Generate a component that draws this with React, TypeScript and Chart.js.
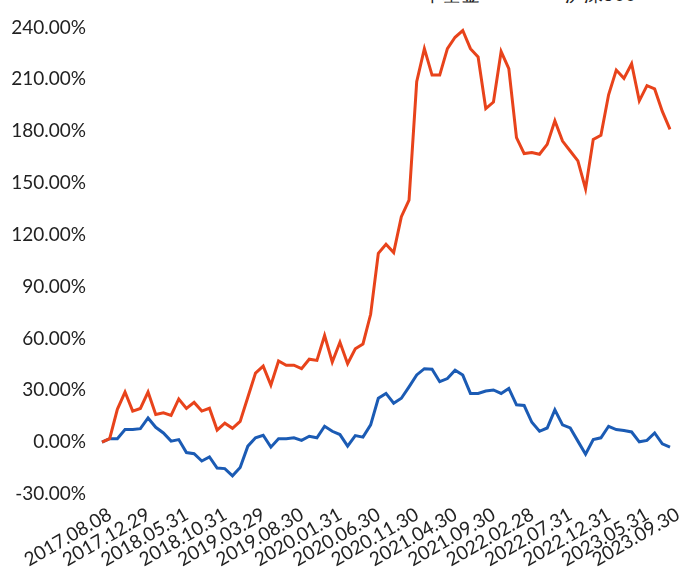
import React, { useEffect, useRef } from "react";
import { Chart, registerables } from "chart.js";

Chart.register(...registerables);

const categories: string[] = [
  "2017.08.08", "2017.08.31", "2017.09.29", "2017.10.31", "2017.11.30", "2017.12.29",
  "2018.01.31", "2018.02.28", "2018.03.30", "2018.04.27", "2018.05.31",
  "2018.06.29", "2018.07.31", "2018.08.31", "2018.09.28", "2018.10.31",
  "2018.11.30", "2018.12.28", "2019.01.31", "2019.02.28", "2019.03.29",
  "2019.04.30", "2019.05.31", "2019.06.28", "2019.07.31", "2019.08.30",
  "2019.09.30", "2019.10.31", "2019.11.29", "2019.12.31", "2020.01.31",
  "2020.02.28", "2020.03.31", "2020.04.30", "2020.05.29", "2020.06.30",
  "2020.07.31", "2020.08.31", "2020.09.30", "2020.10.30", "2020.11.30",
  "2020.12.31", "2021.01.29", "2021.02.26", "2021.03.31", "2021.04.30",
  "2021.05.31", "2021.06.30", "2021.07.30", "2021.08.31", "2021.09.30",
  "2021.10.29", "2021.11.30", "2021.12.31", "2022.01.28", "2022.02.28",
  "2022.03.31", "2022.04.29", "2022.05.31", "2022.06.30", "2022.07.31",
  "2022.08.31", "2022.09.30", "2022.10.31", "2022.11.30", "2022.12.31",
  "2023.01.31", "2023.02.28", "2023.03.31", "2023.04.28", "2023.05.31",
  "2023.06.30", "2023.07.31", "2023.08.31", "2023.09.30",
];

// 本基金 cumulative return (%)
const fundValues: number[] = [
  0, 2, 19, 29, 18, 19.5, 29, 16, 17, 15.5,
  25, 19.5, 23, 18, 19.6, 7, 11, 8, 12, 26,
  40, 44, 33, 47, 44.5, 44.5, 42.5, 48, 47.3, 61.7,
  46.4, 57.8, 45.4, 54, 56.8, 74, 109.3, 114.5, 109.7, 130.5,
  140, 208.6, 227.7, 212.4, 212.4, 227.7, 234.3, 238.2, 227.7, 222.9,
  193, 196.8, 226, 216.2, 176.2, 167, 167.6, 166.6, 172.3, 186,
  174.2, 168.5, 162.8, 146.6, 175.2, 177.6, 201, 215.3, 210.5, 219,
  197.5, 206.3, 204.4, 191.4, 181,
];

// 沪深300 cumulative return (%)
const indexValues: number[] = [
  0, 2, 2, 7.3, 7.3, 7.8, 14, 8.6, 5.3, 0.6,
  1.5, -6, -6.7, -10.9, -8.6, -15, -15.3, -19.5, -14.7, -2.3,
  2.5, 4, -2.9, 2, 2, 2.5, 1, 3.4, 2.5, 9.2,
  6.3, 4.4, -2.3, 3.8, 2.9, 10, 25.4, 28.2, 22.5, 25.4,
  32, 38.9, 42.5, 42.2, 35, 36.8, 41.6, 38.8, 28.2, 28.2,
  29.6, 30.2, 28.2, 31.1, 21.6, 21.2, 11.5, 6.3, 8.2, 18.7,
  10, 8.2, 0.6, -7, 1.5, 2.5, 9.2, 7.3, 6.7, 5.9,
  0.2, 1, 5.3, -1, -2.9,
];

const seriesNames: string[] = ["本基金", "沪深300"];
const seriesColors: string[] = ["#E8431B", "#1B5BB4"];
const yMin = -30;
const yMax = 240;
const yStep = 30;
const labelEvery = 5;

const FONT = "Lato, 'Open Sans', sans-serif";

export default function App() {
  const ref = useRef<HTMLCanvasElement | null>(null);

  useEffect(() => {
    document.body.style.margin = "0";
    const canvas = ref.current;
    if (!canvas) return;
    const chart = new Chart(canvas, {
      type: "line",
      data: {
        labels: categories,
        datasets: [
          {
            label: seriesNames[0],
            data: fundValues,
            borderColor: seriesColors[0],
            backgroundColor: seriesColors[0],
            borderWidth: 3,
            pointRadius: 0,
            tension: 0,
          },
          {
            label: seriesNames[1],
            data: indexValues,
            borderColor: seriesColors[1],
            backgroundColor: seriesColors[1],
            borderWidth: 3,
            pointRadius: 0,
            tension: 0,
          },
        ],
      },
      options: {
        animation: false,
        responsive: true,
        maintainAspectRatio: false,
        layout: { padding: { top: 22, right: 22, left: 0, bottom: 0 } },
        plugins: {
          legend: { display: false },
          tooltip: { enabled: false },
        },
        scales: {
          x: {
            type: "category",
            offset: false,
            grid: { display: false, drawTicks: false },
            border: { display: false },
            ticks: {
              autoSkip: false,
              minRotation: 30,
              maxRotation: 30,
              padding: 9,
              labelOffset: 8,
              color: "#222",
              font: { family: FONT, size: 19 },
              callback: (_v: any, i: number) =>
                i % labelEvery === 0 || i === categories.length - 1 ? categories[i] : "",
            },
            afterFit: (s: any) => {
              s.height = 94;
            },
          },
          y: {
            min: yMin,
            max: yMax,
            grid: { display: false, drawTicks: false },
            border: { display: false },
            ticks: {
              stepSize: yStep,
              padding: 16,
              color: "#222",
              font: { family: FONT, size: 19 },
              callback: (v: any) => Number(v).toFixed(2) + "%",
            },
            afterFit: (s: any) => {
              s.width = 102;
            },
          },
        },
      },
    });
    return () => chart.destroy();
  }, []);

  const legendText: React.CSSProperties = {
    position: "absolute",
    top: -16,
    fontFamily: FONT,
    fontSize: 19,
    lineHeight: "19px",
    color: "#222",
    whiteSpace: "nowrap",
  };
  const legendLine = (color: string): React.CSSProperties => ({
    position: "absolute",
    top: -8,
    height: 3,
    width: 40,
    background: color,
  });

  return (
    <div
      style={{
        position: "relative",
        width: 692,
        height: 588,
        overflow: "hidden",
        background: "#fff",
      }}
    >
      <div style={{ ...legendLine(seriesColors[0]), left: 375 }} />
      <div style={{ ...legendText, left: 423 }}>{seriesNames[0]}</div>
      <div style={{ ...legendLine(seriesColors[1]), left: 518 }} />
      <div style={{ ...legendText, left: 565 }}>{seriesNames[1]}</div>
      <div style={{ position: "absolute", left: 0, top: 0, width: 692, height: 588 }}>
        <canvas ref={ref} />
      </div>
    </div>
  );
}
